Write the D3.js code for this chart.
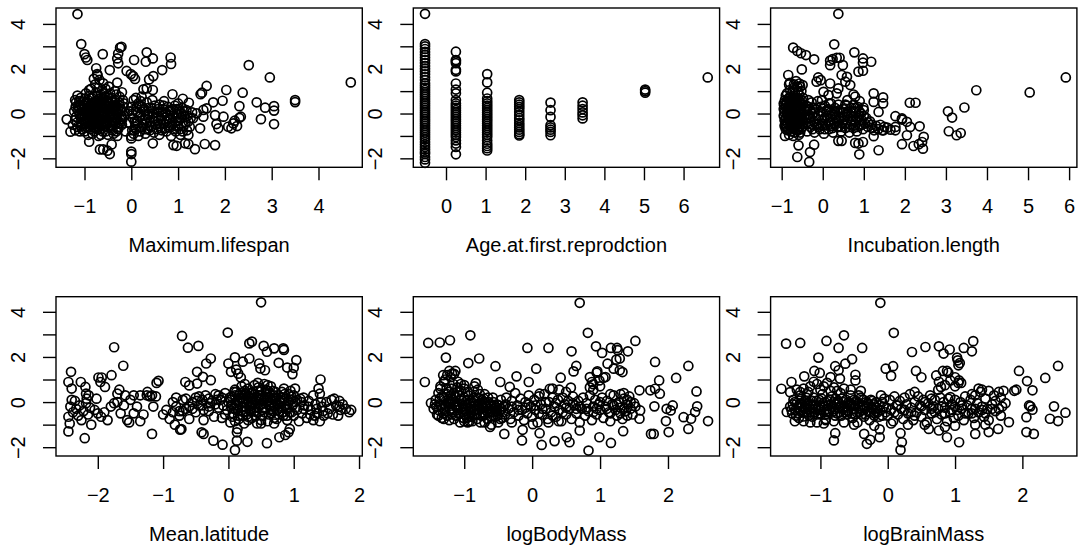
<!DOCTYPE html>
<html><head><meta charset="utf-8">
<script src="https://cdn.jsdelivr.net/npm/d3@7"></script>
<style>body{margin:0;background:#fff}svg{display:block}text{font-family:"Liberation Sans",Arial,Helvetica,sans-serif;fill:#000}</style>
</head><body><svg id="c" width="1078" height="560"></svg>
<script>
// ---------- data ----------
const lifespanPts = [
[-1.15,4.44],[-1.07,3.10],[-1.0,2.65],[-0.97,2.5],[-0.94,2.39],[-0.61,2.65],[-0.75,2.02],[-0.73,1.76],[-0.46,1.94],[-0.30,1.38],[-0.28,2.68],[-0.24,2.94],[-0.21,2.98],[-0.30,2.46],[-0.28,2.24],[0.06,2.39],[-0.10,1.90],[-0.01,1.76],[0.04,1.67],[0.08,1.54],[0.33,2.73],[0.31,2.31],[0.46,2.46],[0.38,1.52],[0.47,1.67],[0.66,1.94],[0.84,2.50],[0.85,2.21],[0.26,1.08],[0.33,1.12],[0.46,1.05],[0.22,0.75],[0.88,0.86],[1.10,0.66],[1.23,0.48],[1.48,0.86],[1.51,0.93],[1.61,1.23],[1.75,0.50],[1.95,0.57],[2.03,1.05],[2.38,0.93],[2.51,2.16],[2.68,0.50],[2.96,1.61],[2.86,0.26],[3.05,0.33],[3.05,0.13],[3.05,-0.47],[2.77,-0.25],[3.50,0.60],[3.50,0.51],[4.69,1.39],[2.31,0.33],[2.34,-0.14],[2.31,-0.19],[2.18,-0.44],[2.14,-0.66],[2.26,-0.56],[2.21,-0.32],[2.07,-0.59],[1.97,-0.14],[1.82,-0.47],[1.86,-0.66],[1.79,-0.07],[1.79,-1.41],[1.57,-1.36],[1.36,-1.59],[1.22,-1.36],[1.15,-1.33],[0.97,-1.44],[0.90,-1.41],[0.46,-1.33],[0.0,-1.11],[0.0,-1.70],[0.0,-1.81],[0.0,-2.15],[-0.42,-1.38],[-0.46,-1.81],[-0.51,-1.66],[-0.60,-1.60],[-0.67,-1.60],[-0.90,-1.26],[-1.30,-0.81],[-1.38,-0.26],[1.22,-0.96],[1.47,-0.66],[1.54,-0.14],[1.40,0.01],[1.32,-0.21],[1.54,0.16],[1.61,0.23],
[-1.22,0.1],[-1.2,-0.3],[-1.18,0.5],[-1.15,-0.6],[-1.12,0.25],[-1.1,-0.1],[-1.08,0.7],[-1.05,-0.45],[-1.03,0.4],[-1.0,-0.8],[-0.98,0.05],[-0.97,0.9],[-0.95,-0.25],[-0.93,0.6],[-0.9,-0.6],[-0.88,0.3],[-0.86,1.1],[-0.85,-0.05],[-0.83,-0.9],[-0.8,0.5],[-0.78,-0.4],[-0.77,1.3],[-0.75,0.15],[-0.73,-0.7],[-0.72,0.8],[-0.7,-0.2],[-0.68,1.5],[-0.66,0.4],[-0.65,-0.95],[-0.63,0.0],[-0.6,-0.5],[-0.58,0.9],[-0.57,0.2],[-0.55,-0.8],[-0.53,0.55],[-0.5,-0.3],[-0.48,1.2],[-0.46,0.1],[-0.44,-0.65],[-0.42,0.7],[-0.4,-0.1],[-0.38,-0.9],[-0.36,0.35],[-0.34,-0.45],[-0.32,0.85],[-0.3,0.0],[-0.28,-0.7],[-0.26,0.5],[-0.24,-0.25],[-0.22,0.2],[-0.2,-0.5],[-0.18,0.6],[-0.15,-0.1],[-0.12,-0.8],
[-1.1,0.0],[-1.05,0.2],[-1.0,-0.35],[-0.95,0.25],[-0.9,0.0],[-0.88,-0.35],[-0.82,0.2],[-0.8,-0.15],[-0.75,-0.45],[-0.72,0.45],[-0.68,0.1],[-0.65,-0.3],[-0.62,0.6],[-0.6,0.25],[-0.56,-0.1],[-0.52,0.3],[-0.5,-0.6],[-0.47,0.45],[-0.43,-0.3],[-0.38,0.15],[-0.35,-0.2],[-0.31,0.3],[-0.27,-0.45],[-0.95,-0.6],[-0.85,0.7],[-0.75,0.95],[-0.7,1.15],[-0.62,1.05],[-0.8,1.55],[-0.72,1.7],[-0.6,1.35],[-0.55,1.1],[-0.9,1.05],[-1.0,0.65],[-1.15,0.8],[-1.2,0.6],[-1.25,-0.5],[-1.2,-0.75],[-1.1,-0.8],[-0.92,-0.95],[-0.7,-1.0],[-0.5,-0.95],[-0.3,-1.0],[-0.4,0.55],[-0.25,0.75],[-0.2,0.95],[-0.35,1.0],[-0.45,0.9],
[-1.18,-0.15],[-1.13,0.35],[-1.08,-0.55],[-1.02,0.1],[-0.97,-0.45],[-0.92,0.45],[-0.87,-0.7],[-0.83,0.05],[-0.78,0.35],[-0.76,-0.25],[-0.71,-0.55],[-0.69,0.65],[-0.64,-0.1],[-0.61,-0.8],[-0.59,0.45],[-0.54,-0.4],[-0.51,0.05],[-0.49,0.7],[-0.45,-0.5],[-0.41,0.25],[-0.37,-0.35],[-0.33,0.1],[-0.29,-0.6],[-0.25,0.35],[-0.21,-0.15],[-0.17,0.3],[-1.05,-0.7],[-1.15,0.15],[-0.9,0.8],[-0.8,-0.6],[-0.7,0.3],[-0.6,-0.05],[-0.5,0.55],[-0.4,-0.75],[-0.3,-0.25],[-0.2,0.1],[-0.85,0.45],[-0.95,-0.05],[-1.0,0.35],[-0.65,0.85],[-0.55,0.75],[-0.45,-0.05],
[-1.19,0.3],[-1.16,-0.4],[-1.11,0.55],[-1.07,-0.25],[-1.04,0.0],[-0.99,-0.65],[-0.96,0.5],[-0.91,-0.15],[-0.89,0.15],[-0.84,-0.5],[-0.81,0.75],[-0.79,-0.8],[-0.74,0.55],[-0.71,-0.35],[-0.67,-0.7],[-0.63,0.35],[-0.62,-0.25],[-0.58,0.05],[-0.55,-0.55],[-0.52,0.5],[-0.48,-0.2],[-0.44,0.35],[-0.41,-0.55],[-0.39,0.0],[-0.35,0.6],[-0.32,-0.8],[-0.28,0.2],[-0.23,-0.4],[-0.19,-0.25],[-0.16,0.45],
[-1.09,0.4],[-1.06,-0.15],[-1.01,0.25],[-0.99,-0.2],[-0.94,0.1],[-0.92,-0.35],[-0.87,0.4],[-0.84,-0.25],[-0.81,0.0],[-0.79,0.25],[-0.77,-0.6],[-0.74,-0.1],[-0.71,0.2],[-0.69,-0.45],[-0.66,0.5],[-0.64,-0.55],[-0.61,0.1],[-0.58,-0.35],[-0.56,0.35],[-0.53,-0.2],[-0.51,-0.45],[-0.47,0.2],[-0.45,0.25],[-0.42,-0.4],[-0.39,0.35],[-0.37,-0.05],[-0.34,0.2],
[0.0,0.3],[0.03,-0.2],[0.05,0.6],[0.08,-0.6],[0.1,0.1],[0.13,-0.35],[0.15,0.45],[0.18,-0.8],[0.2,-0.05],[0.23,0.3],[0.25,-0.5],[0.28,0.1],[0.3,-0.25],[0.33,0.5],[0.35,-0.7],[0.38,0.0],[0.4,-0.4],[0.43,0.25],[0.45,-0.15],[0.48,-0.85],[0.5,0.35],[0.53,-0.5],[0.55,0.05],[0.58,-0.3],[0.6,0.4],[0.63,-0.65],[0.65,-0.1],[0.68,0.2],[0.7,-0.45],[0.73,0.05],[0.75,-0.8],[0.78,0.3],[0.8,-0.25],[0.83,-0.55],[0.85,0.1],[0.88,-0.1],[0.9,-0.7],[0.93,0.35],[0.95,-0.35],[0.98,0.0],[1.0,-0.55],[1.03,0.2],[1.06,-0.2],[1.1,-0.8],[1.13,0.1],[1.16,-0.4],[1.2,-0.1],[1.25,-0.6],[1.3,0.05],[0.1,0.7],[0.2,0.55],[-0.05,-0.4],[-0.05,0.1],[0.05,-0.9],[0.15,-1.0],[0.3,-0.9],[0.6,-0.95],[0.85,-1.0],[1.05,-0.95],[0.45,0.6],[0.7,0.55],[1.0,0.45],[0.02,-0.75],[0.0,-1.0],
[0.02,0.0],[0.07,-0.35],[0.12,0.3],[0.17,-0.15],[0.22,-0.6],[0.27,0.2],[0.32,-0.45],[0.37,0.25],[0.42,-0.6],[0.47,0.0],[0.52,-0.2],[0.57,0.2],[0.62,-0.45],[0.67,0.05],[0.72,-0.65],[0.77,-0.1],[0.82,0.15],[0.87,-0.4],[0.92,-0.15],[0.97,0.2],[1.02,-0.3],[1.07,0.0],[1.12,-0.55],[1.18,0.15],[1.22,-0.35],[1.27,-0.2],[0.1,-0.7],[0.4,-0.75],[0.65,-0.75],[0.95,-0.8],
[0.04,0.15],[0.09,-0.45],[0.14,0.05],[0.19,0.35],[0.24,-0.3],[0.29,-0.7],[0.34,-0.05],[0.39,-0.55],[0.44,0.1],[0.49,-0.35],[0.54,-0.7],[0.59,0.1],[0.64,-0.25],[0.69,0.35],[0.74,-0.35],[0.79,-0.6],[0.84,-0.2],[0.89,0.2],[0.94,-0.55],[0.99,-0.2],[1.04,-0.7],[1.09,0.25],[1.14,-0.15],[1.19,-0.75]
];

const ageFirstReproPts = [
[-0.53,4.45],[-0.53,-2.2],[-0.53,-2.05],[-0.53,-1.94],[-0.53,-1.8],[-0.53,-1.72],[-0.53,-1.6],[-0.53,-1.49],[-0.53,-1.38],[-0.53,-1.27],[-0.53,-1.15],[-0.53,-1.05],[-0.53,-0.95],[-0.53,-0.85],[-0.53,-0.75],[-0.53,-0.65],[-0.53,-0.55],[-0.53,-0.45],[-0.53,-0.35],[-0.53,-0.25],[-0.53,-0.15],[-0.53,-0.05],[-0.53,0.05],[-0.53,0.15],[-0.53,0.25],[-0.53,0.35],[-0.53,0.45],[-0.53,0.55],[-0.53,0.65],[-0.53,0.75],[-0.53,0.85],[-0.53,0.95],[-0.53,1.05],[-0.53,1.15],[-0.53,1.25],[-0.53,1.35],[-0.53,1.5],[-0.53,1.62],[-0.53,1.75],[-0.53,1.88],[-0.53,2.0],[-0.53,2.12],[-0.53,2.25],[-0.53,2.38],[-0.53,2.5],[-0.53,2.62],[-0.53,2.75],[-0.53,2.88],[-0.53,3.0],[-0.53,3.1],
[0.25,2.76],[0.25,2.39],[0.25,2.33],[0.25,2.25],[0.25,1.95],[0.25,1.88],[0.25,1.34],[0.25,1.07],[0.25,0.9],[0.25,0.6],[0.25,0.45],[0.25,0.35],[0.25,0.25],[0.25,0.15],[0.25,0.05],[0.25,-0.05],[0.25,-0.15],[0.25,-0.25],[0.25,-0.35],[0.25,-0.45],[0.25,-0.55],[0.25,-0.65],[0.25,-0.75],[0.25,-0.85],[0.25,-0.95],[0.25,-1.05],[0.25,-1.2],[0.25,-1.34],[0.25,-1.49],[0.25,-1.82],
[1.04,1.76],[1.04,1.39],[1.04,0.93],[1.04,0.67],[1.04,0.55],[1.04,0.45],[1.04,0.35],[1.04,0.25],[1.04,0.15],[1.04,0.05],[1.04,-0.05],[1.04,-0.15],[1.04,-0.25],[1.04,-0.35],[1.04,-0.45],[1.04,-0.55],[1.04,-0.65],[1.04,-0.75],[1.04,-0.85],[1.04,-0.95],[1.04,-1.05],[1.04,-1.2],[1.04,-1.35],[1.04,-1.45],[1.04,-1.55],[1.04,-1.65],
[1.85,0.6],[1.85,0.5],[1.85,0.4],[1.85,0.3],[1.85,0.2],[1.85,0.07],[1.85,-0.07],[1.85,-0.2],[1.85,-0.3],[1.85,-0.42],[1.85,-0.52],[1.85,-0.62],[1.85,-0.72],[1.85,-0.82],[1.85,-0.92],[1.85,-0.98],
[2.64,0.49],[2.64,0.15],[2.64,-0.15],[2.64,-0.52],[2.64,-0.62],[2.64,-0.72],[2.64,-0.82],[2.64,-0.97],
[3.45,0.5],[3.45,0.35],[3.45,0.2],[3.45,0.05],[3.45,-0.08],[3.45,-0.22],
[5.03,1.07],[5.03,1.0],[5.03,0.93],[6.61,1.61]
];

const incubationPts = [
[0.38,4.45],[0.28,3.09],[-0.72,2.94],[-0.62,2.79],[-0.53,2.69],[-0.41,2.61],[-0.21,2.42],[-0.51,1.97],[-0.84,1.72],[-0.80,1.37],[-0.70,1.16],[-0.57,1.34],[-0.49,1.27],[-0.11,1.61],[-0.05,1.49],[-0.15,1.42],[0.18,2.36],[0.24,2.43],[0.34,2.49],[0.41,2.49],[0.18,2.16],[0.49,2.16],[0.77,2.73],[0.98,2.46],[0.98,2.27],[0.87,1.87],[0.98,1.91],[1.18,2.31],[0.46,1.72],[0.59,1.64],[0.55,1.42],[0.18,1.34],[0.38,1.12],[0.67,1.27],[0.02,0.97],[0.14,0.82],[-0.02,0.60],[0.34,0.90],[0.75,0.85],[0.79,0.75],[1.24,0.90],[1.24,0.52],[1.47,0.72],[1.47,0.45],[1.36,0.07],[0.99,0.27],[1.77,-0.12],[1.93,-0.27],[2.05,-0.37],[2.13,-0.60],[1.93,-0.22],[2.12,0.48],[2.26,0.48],[1.77,-0.6],[1.77,-0.75],[2.05,-0.97],[1.93,-1.37],[2.21,-1.45],[2.34,-1.37],[2.36,-0.57],[2.46,-1.04],[2.44,-1.57],[2.42,-1.27],[1.36,-1.64],[1.24,-1.01],[0.98,-1.27],[0.87,-1.34],[0.89,-1.82],[0.79,-1.31],[0.38,-1.22],[0.46,-1.22],[-0.21,-1.39],[-0.31,-1.72],[-0.33,-2.16],[-0.62,-1.94],[-0.59,-1.42],[1.57,-0.63],[1.65,-0.72],[1.48,-0.75],[3.05,0.10],[3.15,-0.18],[3.07,-0.79],[3.26,-0.97],[3.36,-0.87],[3.45,0.27],[3.74,1.04],[5.04,0.94],[5.92,1.61],
[-0.95,0.2],[-0.93,-0.3],[-0.92,0.6],[-0.9,-0.7],[-0.88,0.0],[-0.87,0.9],[-0.85,-0.45],[-0.83,0.35],[-0.82,-0.95],[-0.8,0.75],[-0.78,-0.15],[-0.77,0.15],[-0.75,-0.6],[-0.73,1.0],[-0.72,0.45],[-0.7,-0.3],[-0.68,-0.85],[-0.67,0.1],[-0.65,0.7],[-0.63,-0.5],[-0.62,0.3],[-0.6,-0.1],[-0.58,-0.95],[-0.57,0.55],[-0.55,1.2],[-0.53,-0.7],[-0.52,0.05],[-0.5,-0.35],[-0.48,0.4],[-0.45,-0.15],[-0.9,0.4],[-0.85,-0.1],[-0.8,0.25],[-0.75,-0.25],[-0.7,0.05],[-0.65,0.35],[-0.6,-0.4],[-0.55,0.2],[-0.5,-0.6],[-0.82,1.3],[-0.65,1.45],[-0.62,1.2],[-0.6,1.0],[-0.78,-0.45],[-0.95,-0.1],[-0.92,-1.0],[-0.72,-1.0],[-0.6,-0.75],
[-0.93,0.05],[-0.9,-0.2],[-0.88,0.55],[-0.85,0.15],[-0.82,-0.3],[-0.8,0.5],[-0.77,-0.8],[-0.75,0.3],[-0.72,-0.1],[-0.7,0.7],[-0.68,-0.55],[-0.65,-0.15],[-0.63,0.5],[-0.6,0.15],[-0.57,-0.25],[-0.55,-0.85],[-0.53,0.4],[-0.5,-0.05],[-0.48,0.7],[-0.47,-0.45],[-0.9,0.8],[-0.8,1.05],[-0.7,1.3],[-0.68,0.9],[-0.58,0.85],[-0.52,1.0],[-0.95,0.45],[-0.93,-0.55],[-0.85,-0.75],[-0.62,-0.7],
[-0.94,0.35],[-0.91,-0.45],[-0.89,0.25],[-0.86,-0.25],[-0.84,0.65],[-0.81,0.0],[-0.79,-0.6],[-0.76,0.55],[-0.74,-0.05],[-0.71,0.25],[-0.69,-0.7],[-0.66,-0.35],[-0.64,0.55],[-0.61,-0.2],[-0.59,0.35],[-0.56,-0.55],[-0.54,0.0],[-0.51,0.6],[-0.49,-0.25],[-0.46,0.2],
[-0.89,-0.55],[-0.87,0.45],[-0.84,-0.05],[-0.81,0.6],[-0.79,0.1],[-0.76,-0.35],[-0.73,0.65],[-0.71,-0.5],[-0.69,0.45],[-0.66,0.15],[-0.63,-0.25],[-0.61,0.7],[-0.58,0.6],[-0.56,-0.4],[-0.53,0.25],
[-0.42,0.1],[-0.4,-0.4],[-0.38,-0.8],[-0.35,0.3],[-0.32,-0.15],[-0.3,-0.6],[-0.27,0.5],[-0.25,0.0],[-0.22,-0.35],[-0.2,-0.85],[-0.17,0.2],[-0.15,-0.5],[-0.12,0.55],[-0.1,-0.1],[-0.07,-0.7],[-0.05,0.3],[-0.02,-0.3],[0.0,0.05],[0.03,-0.9],[0.05,0.35],[0.08,-0.5],[0.1,-0.1],[0.13,0.2],[0.15,-0.7],[0.18,-0.3],[0.2,0.45],[0.23,0.0],[0.25,-0.85],[0.28,-0.45],[0.3,0.25],[0.33,-0.15],[0.35,-0.6],[0.38,0.4],[0.4,-0.3],[0.43,0.05],[0.45,-0.8],[0.48,-0.45],[0.5,0.2],[0.53,-0.15],[0.55,-0.65],[0.58,0.35],[0.6,-0.3],[0.63,0.0],[0.65,-0.85],[0.68,-0.5],[0.7,0.25],[0.73,-0.15],[0.75,-0.65],[0.78,0.1],[0.8,-0.35],[0.83,-0.8],[0.85,0.3],[0.88,-0.1],[0.9,-0.55],[0.93,0.0],[0.95,-0.3],[0.98,-0.7],[1.0,0.15],[1.03,-0.45],[1.06,-0.2],[1.1,-0.6],[1.15,-0.35],[1.2,-0.65],[1.25,-0.75],[1.3,-0.55],[1.35,-0.7],[1.4,-0.5],[1.45,-0.75],[1.5,-0.6],[-0.35,0.6],[0.6,0.6],[0.9,0.55],
[-0.4,0.35],[-0.3,-0.2],[-0.2,0.05],[-0.1,-0.45],[0.0,-0.55],[0.1,0.15],[0.2,-0.55],[0.3,-0.05],[0.4,0.15],[0.5,-0.3],[0.6,0.1],[0.7,-0.35],[0.8,0.25],[0.9,-0.3],[1.0,-0.1],[0.15,0.45],[0.35,0.1],[0.55,0.4],[0.75,0.4],[-0.25,-0.7],[0.05,-0.7],[0.45,-0.6],[0.85,-0.6],[1.1,-0.4],[1.2,-0.5],
[-0.41,-0.2],[-0.36,-0.45],[-0.31,0.15],[-0.26,-0.5],[-0.21,0.25],[-0.16,-0.2],[-0.11,-0.6],[-0.06,0.1],[-0.01,-0.45],[0.04,-0.2],[0.09,0.1],[0.14,-0.4],[0.19,-0.1],[0.24,-0.65],[0.29,0.1],[0.34,-0.35],[0.39,-0.6],[0.44,-0.15],[0.49,0.05],[0.54,-0.45],[0.59,-0.05],[0.64,-0.6],[0.69,-0.1],[0.74,0.1],[0.79,-0.5],[0.84,-0.2],[0.89,0.1],[0.94,-0.5]
];

const latitudePts = [
[0.50,4.42],[-0.01,3.08],[-0.71,2.93],[-1.75,2.43],[-0.62,2.41],[-0.46,2.49],[0.36,2.68],[0.32,2.6],[0.54,2.49],[0.59,2.23],[0.70,2.38],[0.84,2.38],[0.85,2.31],[0.32,1.93],[0.10,1.98],[0.22,1.79],[-0.27,1.93],[-0.34,1.71],[-1.61,1.61],[1.04,1.86],[1.0,1.52],[0.98,1.24],[0.90,1.53],[0.77,1.74],[0.47,1.71],[0.49,1.49],[0.56,1.41],[0.0,1.71],[0.04,1.34],[0.12,1.44],[0.15,1.26],[0.19,1.09],[-0.48,1.34],[-0.39,1.12],[-0.48,0.82],[-0.66,0.89],[-0.6,0.74],[-0.27,0.97],[-1.07,0.94],[-2.41,1.34],[-2.45,0.89],[-2.40,0.6],[-2.26,0.89],[-2.19,0.67],[-1.99,1.09],[-1.94,1.09],[-1.96,0.89],[-1.89,0.67],[-1.79,1.19],[-1.67,0.55],[-1.70,0.37],[-1.58,0.30],[-1.45,0.3],[-1.35,0.3],[-1.24,0.45],[-1.17,0.3],[-1.11,0.25],[1.41,1.0],[1.02,0.6],[1.38,0.6],[1.40,0.37],[1.30,0.3],[-2.02,0.15],[-2.14,0.30],[-2.18,0.37],[-2.17,0.15],[-1.17,-1.41],[-0.74,-1.22],[-0.41,-1.34],[-0.38,-1.41],[-0.23,-1.71],[-0.09,-1.89],[0.10,-2.13],[0.13,-1.71],[0.13,-1.34],[0.14,-1.19],[0.29,-1.76],[0.59,-1.82],[0.78,-1.56],[0.87,-1.46],[0.92,-1.34],[0.94,-1.19],
[-2.45,-0.65],[-2.45,-1.3],[-2.43,-0.95],[-2.42,-0.2],[-2.4,0.1],[-2.38,-0.45],[-2.35,0.05],[-2.33,-0.3],[-2.3,-0.6],[-2.28,-0.15],[-2.25,-0.8],[-2.22,-0.4],[-2.2,-1.6],[-2.18,-0.05],[-2.15,-0.55],[-2.12,-0.25],[-2.1,-1.0],[-2.05,-0.35],[-2.0,-0.5],[-1.95,-0.65],[-1.9,-0.45],[-1.85,-0.8],[-1.8,-0.2],[-1.75,-0.05],[-1.7,0.0],[-1.65,-0.5],[-1.6,-0.15],[-1.55,-0.8],[-1.52,-0.9],[-1.5,0.1],[-1.45,-0.5],[-1.4,-0.2],[-1.35,-0.85],[-1.3,-0.55],[-1.25,0.3],[-1.2,0.25],[-1.15,-0.2],[-1.1,0.85],[-1.0,-0.55],[-0.95,-0.35],[-0.9,-0.75],[-0.85,0.0],[-0.82,-1.0],[-0.8,0.2],[-0.75,-0.4],[-0.72,-1.2],
[-0.8,-0.2],[-0.75,-0.6],[-0.7,0.1],[-0.65,-0.3],[-0.6,-0.75],[-0.55,0.0],[-0.5,-0.45],[-0.45,0.25],[-0.4,-0.15],[-0.38,-0.8],[-0.35,0.3],[-0.3,-0.4],[-0.25,0.05],[-0.22,-0.65],[-0.2,0.35],[-0.15,-0.25],[-0.12,0.1],[-0.1,-0.7],[-0.05,0.4],[-0.02,-0.35],[0.0,0.0],[0.03,-0.9],[0.05,0.25],[0.07,-0.5],[0.1,0.55],[0.12,-0.15],[0.14,0.1],[0.16,-0.75],[0.18,0.4],[0.2,-0.35],[0.22,0.0],[0.24,-0.95],[0.26,0.3],[0.28,-0.55],[0.3,0.6],[0.32,-0.2],[0.34,0.15],[0.36,-0.7],[0.38,0.45],[0.4,-0.4],[0.42,0.05],[0.44,-0.95],[0.46,0.3],[0.48,-0.15],[0.5,0.55],[0.52,-0.6],[0.54,0.1],[0.56,-0.3],[0.58,0.35],[0.6,-0.85],[0.62,-0.1],[0.64,0.2],[0.66,-0.5],[0.68,0.5],[0.7,-0.2],[0.72,0.05],[0.74,-0.75],[0.76,0.3],[0.78,-0.4],[0.8,-0.05],[0.82,0.45],[0.84,-0.6],[0.86,0.15],[0.88,-0.3],[0.9,-0.8],[0.92,0.05],[0.94,-0.45],[0.96,0.25],[0.98,-0.15],[1.0,-0.6],[1.02,0.0],[1.05,-0.35],[1.08,-0.85],[1.1,0.15],[1.13,-0.5],[1.16,-0.15],[1.2,-0.7],[1.23,0.05],[1.26,-0.35],[1.3,-0.8],[1.33,-0.1],[1.36,-0.5],[1.4,-0.85],[1.43,-0.2],[1.46,-0.6],[1.5,0.0],[1.55,-0.3],[1.6,-0.55],[1.65,-0.15],[1.7,0.05],[1.72,-0.35],[1.75,-0.1],[1.8,-0.3],[1.85,-0.45],[1.88,-0.35],[1.68,-0.6],[1.58,0.1],[1.62,0.15],[1.7,-0.2],
[0.05,-0.1],[0.1,0.3],[0.15,-0.4],[0.2,0.2],[0.25,-0.2],[0.3,0.05],[0.35,-0.4],[0.4,0.35],[0.45,-0.25],[0.5,0.15],[0.55,-0.45],[0.6,0.2],[0.65,-0.15],[0.7,0.3],[0.75,-0.35],[0.8,0.2],[0.3,-0.8],[0.5,-0.8],[0.2,0.7],[0.4,0.75],[0.55,0.8],[0.65,0.7],[0.15,-0.6],[0.35,0.4],[0.45,0.5],[0.25,0.5],[0.6,0.5],[0.7,-0.7],[-0.1,0.2],[-0.2,-0.1],[-0.3,0.15],[-0.45,-0.15],[-0.6,-0.2],[-0.5,0.2],[-0.65,0.15],[0.9,-0.3],[1.0,0.3],[1.15,0.2],[0.85,0.6],[0.95,0.5],
[0.02,0.2],[0.08,-0.3],[0.12,0.45],[0.17,0.05],[0.22,-0.6],[0.27,0.1],[0.32,0.4],[0.37,-0.1],[0.42,-0.6],[0.47,0.1],[0.52,-0.35],[0.57,0.55],[0.62,-0.55],[0.67,0.0],[0.72,0.45],[0.77,-0.55],[0.82,0.05],[0.87,-0.15],[0.92,0.35],[0.97,-0.45],[0.1,-0.85],[0.3,-0.65],[0.5,-0.95],[0.7,-0.95],[0.9,-0.6],[0.25,0.8],[0.45,0.85],[0.6,0.75],[-0.05,-0.55],[-0.15,0.3],[1.05,0.1],[1.15,-0.3],[1.25,-0.55],[1.35,-0.3],[1.45,-0.4],[-0.3,-0.2],[-0.4,0.1],[-0.55,-0.3],[-0.7,-0.4],[-0.85,-0.45],
[0.03,0.1],[0.06,-0.65],[0.11,-0.05],[0.16,0.3],[0.21,-0.2],[0.26,-0.4],[0.31,0.25],[0.36,0.0],[0.41,-0.25],[0.46,0.65],[0.51,-0.1],[0.56,0.25],[0.61,0.05],[0.66,-0.3],[0.71,0.15],[0.76,-0.1],[0.81,-0.25],[0.86,0.35],[0.91,-0.1],[0.96,0.1],[-0.08,-0.15],[-0.18,0.1],[-0.28,-0.05],[-0.38,-0.35],[-0.48,0.05],[1.12,0.0],[1.22,-0.2],[1.32,-0.6],[1.42,0.0],[1.52,-0.5],
[0.04,-0.2],[0.09,0.45],[0.14,-0.3],[0.19,0.15],[0.23,-0.45],[0.28,0.35],[0.33,-0.35],[0.38,0.2],[0.43,-0.45],[0.48,0.3],[0.53,-0.25],[0.58,0.05],[0.63,0.4],[0.68,-0.4],[0.73,0.2],[0.78,0.05],[0.83,-0.45],[0.23,0.15],[0.43,0.2],[0.63,-0.2]
];

const bodyMassPts = [
[0.70,4.40],[0.82,3.07],[-0.91,2.96],[-1.53,2.62],[-1.36,2.64],[-1.21,2.74],[-1.27,1.97],[-0.94,1.73],[-0.78,1.93],[-0.54,1.59],[-0.07,2.4],[0.24,2.4],[0.58,2.25],[0.06,1.48],[0.65,1.6],[0.61,1.36],[0.94,2.47],[1.03,2.18],[1.16,2.4],[1.25,2.4],[1.26,2.3],[1.41,2.25],[1.52,2.71],[1.11,1.7],[1.24,1.88],[1.29,1.93],[0.96,1.36],[1.08,1.11],[1.20,1.48],[1.29,1.41],[1.33,1.33],[0.85,1.11],[0.88,0.89],[0.90,0.79],[0.99,0.96],[1.05,1.08],[0.42,1.08],[0.57,0.64],[0.26,0.59],[0.11,0.37],[-0.23,1.14],[-0.33,0.67],[-0.47,0.89],[-0.05,0.89],[-1.58,0.89],[-1.49,-0.04],[-1.35,0.59],[-1.31,1.19],[-1.22,1.38],[-1.18,1.26],[-1.13,1.38],[-0.83,0.84],[1.81,1.78],[1.87,0.96],[1.81,0.59],[1.74,0.52],[1.88,0.37],[1.80,-0.19],[1.58,0.52],[2.12,1.07],[2.30,1.6],[2.42,0.47],[2.43,-0.19],[2.40,-0.44],[2.59,-0.84],[2.23,-0.67],[2.34,-0.74],[2.30,-1.19],[1.97,-0.84],[2.01,-1.33],[2.07,-0.15],[2.04,-0.37],[1.98,-0.3],[1.75,-1.41],[1.79,-1.41],[1.58,-0.74],[1.59,-0.37],[1.34,-1.29],[1.16,-1.81],[0.99,-1.56],[0.83,-2.15],[0.70,-1.26],[0.55,-1.78],[0.51,-1.56],[0.33,-1.73],[0.14,-1.90],[0.11,-1.38],[-0.15,-1.70],[-0.14,-1.23],[-0.41,-1.41],[0.39,-0.85],[0.24,-0.9],[0.01,-0.98],[-0.3,-0.9],[-0.62,-1.1],[-0.92,-0.85],
[-1.45,-0.3],[-1.42,0.1],[-1.4,-0.55],[-1.38,0.4],[-1.35,-0.15],[-1.33,-0.7],[-1.3,0.2],[-1.28,-0.4],[-1.26,0.6],[-1.24,-0.05],[-1.22,-0.8],[-1.2,0.3],[-1.18,-0.3],[-1.16,0.8],[-1.14,0.0],[-1.12,-0.6],[-1.1,0.45],[-1.08,-0.2],[-1.06,-0.9],[-1.04,0.15],[-1.02,-0.45],[-1.0,0.6],[-0.98,-0.1],[-0.96,-0.7],[-0.94,0.3],[-0.92,-0.3],[-0.9,0.05],[-0.88,-0.85],[-0.86,0.45],[-0.84,-0.15],[-0.82,-0.55],[-0.8,0.2],[-0.78,-0.35],[-0.76,-0.9],[-0.74,0.1],[-0.72,-0.6],[-0.7,0.35],[-0.68,-0.2],[-0.66,-0.75],[-0.64,0.0],[-0.62,-0.45],[-0.6,-1.0],[-0.58,0.2],[-0.56,-0.3],[-0.54,-0.65],[-0.52,-0.1],[-0.5,-0.9],[-0.48,-0.4],[-0.46,0.1],[-0.44,-0.7],[-0.42,-0.2],[-0.4,-0.55],[-1.3,-0.1],[-1.2,0.0],[-1.1,-0.1],[-1.0,0.2],[-0.9,-0.5],[-0.8,-0.1],[-0.7,0.0],[-0.6,-0.2],[-1.25,0.35],[-1.15,0.4],[-1.05,0.5],[-0.95,0.45],[-1.3,0.9],[-1.2,1.1],[-1.25,1.2],[-1.15,1.25],[-1.05,0.8],[-1.0,0.75],[-0.85,0.7],[-0.8,0.55],[-1.38,-0.6],[-1.3,-0.75],[-1.0,-0.85],[-0.7,-0.9],
[-1.43,-0.1],[-1.38,-0.35],[-1.33,0.25],[-1.28,-0.2],[-1.23,0.15],[-1.18,-0.55],[-1.13,0.25],[-1.09,-0.35],[-1.03,-0.1],[-0.99,-0.55],[-0.95,0.1],[-0.9,-0.2],[-0.86,0.2],[-0.81,-0.75],[-0.77,0.35],[-0.73,-0.45],[-0.69,-0.1],[-0.65,0.2],[-0.61,-0.65],[-0.57,0.0],[-0.53,-0.4],[-0.49,-0.15],[-0.45,-0.3],[-1.35,0.7],[-1.28,1.0],[-1.1,0.65],[-0.95,-0.9],[-1.15,-0.75],[-0.85,-0.35],[-0.75,-0.15],
[-1.41,-0.2],[-1.36,0.15],[-1.31,-0.5],[-1.27,0.05],[-1.21,-0.35],[-1.17,0.1],[-1.11,-0.25],[-1.07,0.3],[-1.01,-0.3],[-0.97,-0.25],[-0.93,-0.05],[-0.89,-0.65],[-0.85,0.05],[-0.79,-0.2],[-0.75,-0.6],[-0.71,0.15],[-0.67,-0.4],[-0.63,-0.3],[-0.59,-0.45],[-0.55,-0.15],[-0.51,-0.6],[-0.47,-0.75],[-0.43,-0.45],[-0.39,-0.1],[-1.19,0.6],[-1.09,0.9],[-1.23,0.45],
[-1.29,-0.3],[-1.25,-0.6],[-1.21,-0.1],[-1.17,-0.45],[-1.13,-0.15],[-1.09,-0.5],[-1.05,-0.25],[-1.01,-0.7],[-0.97,-0.4],[-0.93,-0.6],[-0.89,-0.35],[-0.85,-0.55],[-0.81,-0.3],[-0.77,-0.05],[-0.73,-0.25],[-0.69,-0.55],[-0.65,-0.45],[-0.61,-0.1],[-0.57,-0.6],[-0.53,-0.25],[-1.19,0.15],[-1.03,0.05],[-0.87,-0.05],
[-0.38,0.2],[-0.35,-0.3],[-0.32,-0.75],[-0.3,0.05],[-0.27,-0.45],[-0.25,0.4],[-0.22,-0.15],[-0.2,-0.6],[-0.17,0.15],[-0.15,-0.35],[-0.12,-0.8],[-0.1,0.0],[-0.07,-0.5],[-0.05,0.3],[-0.02,-0.2],[0.0,-0.65],[0.03,0.1],[0.05,-0.35],[0.08,-0.9],[0.1,0.25],[0.13,-0.1],[0.15,-0.55],[0.18,0.35],[0.2,-0.3],[0.23,-0.75],[0.25,0.0],[0.28,-0.45],[0.3,0.2],[0.33,-0.2],[0.35,-0.65],[0.38,0.1],[0.4,-0.35],[0.43,-0.85],[0.45,0.2],[0.48,-0.1],[0.5,-0.55],[0.53,0.05],[0.55,-0.3],[0.58,-0.75],[0.6,0.25],[0.63,-0.15],[0.65,-0.5],[0.68,0.05],[0.7,-0.9],[0.73,-0.3],[0.75,0.2],[0.78,-0.6],[0.8,-0.05],[0.83,-0.4],[0.85,0.3],[0.88,-0.8],[0.9,-0.2],[0.93,0.1],[0.95,-0.55],[0.98,-0.1],[1.0,-0.35],[1.03,0.2],[1.05,-0.7],[1.08,-0.2],[1.1,0.05],[1.13,-0.45],[1.15,-0.85],[1.18,-0.1],[1.2,0.3],[1.23,-0.35],[1.25,-0.6],[1.28,0.0],[1.3,-0.25],[1.33,-0.75],[1.35,0.15],[1.38,-0.4],[1.4,-0.1],[1.43,0.25],[1.45,-0.3],[1.48,-0.55],[1.5,-0.05],[1.52,-0.2],[1.3,0.35],[1.35,0.4],[1.15,0.35],[0.4,0.55],[0.3,0.6],[0.5,0.45],[0.9,0.55],[0.85,0.65],[1.0,0.7],[0.95,1.3],
[-0.3,-0.2],[-0.1,-0.25],[0.1,-0.5],[0.3,-0.6],[0.5,-0.25],[0.7,-0.2],[0.9,-0.45],[1.1,-0.3],[1.3,-0.5],[1.45,0.0],[0.2,0.0],[0.6,-0.05],[1.0,0.0],[1.2,-0.15],[1.4,-0.6],
[0.05,-0.15],[0.15,-0.3],[0.35,-0.05],[0.45,-0.45],[0.65,-0.3],[0.8,-0.3],[0.95,-0.3],[1.15,-0.5],[1.25,-0.1],[1.35,-0.3],[1.4,0.1],[-0.2,-0.35],[-0.05,-0.1]
];

const brainMassPts = [
[-0.11,4.40],[0.09,3.07],[-1.51,2.59],[-1.30,2.62],[-0.91,2.71],[-0.65,2.96],[-0.73,2.40],[-0.38,2.40],[-1.03,1.97],[-0.53,1.90],[-0.63,1.70],[-0.78,1.59],[-0.73,1.41],[-1.09,1.38],[-1.01,1.29],[-1.24,1.14],[-0.85,1.11],[-0.71,1.04],[-0.48,1.21],[-0.48,0.96],[-0.03,1.48],[0.08,1.59],[0.05,1.16],[0.36,2.22],[0.56,2.44],[0.76,2.47],[0.92,2.33],[0.83,2.15],[1.13,2.4],[1.27,2.70],[1.25,2.25],[1.03,1.97],[1.04,1.85],[1.07,1.73],[1.05,1.63],[0.42,1.38],[0.5,1.1],[0.72,1.18],[0.82,1.38],[0.88,1.38],[0.93,0.96],[1.0,1.1],[1.06,0.96],[1.09,0.85],[0.76,0.9],[0.79,0.67],[0.93,0.22],[-1.58,0.59],[-1.43,0.89],[-1.45,0.44],[-1.50,-0.44],[-1.25,-0.64],[-0.78,-1.38],[-0.80,-1.70],[-0.35,-1.41],[-0.31,-1.85],[-0.26,-1.67],[-0.12,-1.56],[-0.12,-1.21],[0.19,-1.38],[0.21,-1.78],[0.19,-2.12],[0.61,-1.19],[0.76,-1.26],[0.88,-1.56],[1.06,-1.78],[1.30,-1.41],[1.50,-1.33],[1.64,-1.19],[1.80,-0.89],[1.95,1.38],[2.07,0.93],[2.15,0.52],[2.34,1.07],[2.53,1.60],[1.91,0.55],[1.88,0.5],[2.06,-0.67],[2.06,-1.33],[2.17,-1.41],[2.10,-0.15],[2.15,-0.34],[2.12,-0.19],[2.41,-0.74],[2.47,-0.19],[2.53,-0.84],[2.64,-0.47],[1.68,-0.6],[1.65,-0.3],[1.5,-0.8],[1.45,-1.0],[1.3,-1.0],[1.0,-1.05],[0.85,-1.1],[0.55,-1.0],[0.3,-1.0],[0.05,-0.95],[-0.2,-1.05],[-0.5,-1.0],[-0.95,-0.95],[-0.92,-0.8],
[-1.45,-0.2],[-1.42,-0.5],[-1.4,0.1],[-1.37,-0.35],[-1.35,-0.05],[-1.32,-0.7],[-1.3,0.3],[-1.28,-0.2],[-1.25,-0.85],[-1.23,0.05],[-1.2,-0.45],[-1.18,0.45],[-1.15,-0.1],[-1.12,-0.65],[-1.1,0.2],[-1.07,-0.3],[-1.05,-0.9],[-1.02,0.1],[-1.0,-0.5],[-0.97,0.35],[-0.95,-0.15],[-0.92,-0.75],[-0.9,0.05],[-0.87,-0.4],[-0.85,0.5],[-0.82,-0.2],[-0.8,-0.85],[-0.77,0.15],[-0.75,-0.5],[-0.72,-0.05],[-0.7,0.4],[-0.67,-0.3],[-0.65,-0.9],[-0.62,0.1],[-0.6,-0.55],[-0.57,-0.15],[-0.55,0.3],[-0.52,-0.7],[-0.5,-0.3],[-0.47,0.05],[-0.45,-0.9],[-0.42,-0.45],[-0.4,0.2],[-0.37,-0.15],[-0.35,-0.65],[-0.32,0.0],[-0.3,-0.4],[-0.27,-0.8],[-0.25,0.1],[-0.22,-0.3],[-0.2,-0.6],[-0.17,0.0],[-0.15,-0.45],[-0.12,-0.15],[-0.1,0.3],[-0.08,-0.6],[-0.05,0.15],[-0.02,-0.25],[-1.3,-0.4],[-1.2,-0.1],[-1.1,-0.45],[-1.0,-0.15],[-0.9,-0.3],[-0.8,0.0],[-0.7,-0.2],[-0.6,-0.25],[-0.5,0.1],[-1.25,0.6],[-1.15,0.7],[-1.05,0.8],[-0.95,0.7],[-1.1,0.9],[-0.9,0.85],[-0.8,0.65],[-0.65,0.6],[-0.4,0.5],[-1.35,0.55],[-1.3,0.45],[-1.38,-0.85],[-1.15,-0.9],
[-1.43,-0.35],[-1.38,0.0],[-1.33,-0.5],[-1.28,0.15],[-1.22,-0.25],[-1.17,-0.6],[-1.12,0.05],[-1.08,-0.45],[-1.03,-0.25],[-0.98,0.15],[-0.93,-0.55],[-0.88,-0.15],[-0.83,0.25],[-0.78,-0.6],[-0.73,-0.25],[-0.68,0.15],[-0.63,-0.45],[-0.58,0.0],[-0.53,-0.5],[-0.48,-0.15],[-0.43,0.3],[-0.38,-0.35],[-0.33,-0.55],[-0.28,-0.1],[-0.23,0.05],[-0.18,-0.4],[-0.13,-0.65],[-0.08,0.0],[-0.03,-0.45],[-1.2,0.35],[-1.0,0.55],[-0.75,0.5],[-0.55,0.55],
[-1.41,-0.1],[-1.36,-0.6],[-1.31,-0.1],[-1.26,-0.45],[-1.21,0.2],[-1.16,-0.3],[-1.11,-0.15],[-1.06,0.05],[-1.01,-0.35],[-0.96,-0.05],[-0.91,-0.45],[-0.86,0.1],[-0.81,-0.4],[-0.76,-0.1],[-0.71,-0.45],[-0.66,0.0],[-0.61,-0.35],[-0.56,-0.05],[-0.51,-0.15],[-0.46,-0.45],[-0.41,-0.25],[-0.36,0.1],[-0.31,-0.2],[-0.26,-0.45],[-0.21,-0.1],[-0.16,-0.25],[-0.11,-0.35],[-0.06,-0.2],
[-1.34,-0.25],[-1.29,-0.05],[-1.24,-0.3],[-1.19,-0.05],[-1.14,-0.45],[-1.09,-0.1],[-1.04,-0.55],[-0.99,-0.35],[-0.94,-0.2],[-0.89,-0.55],[-0.84,-0.1],[-0.79,-0.3],[-0.74,0.05],[-0.69,-0.6],[-0.64,-0.2],[-0.59,-0.4],[-0.54,-0.1],[-0.49,-0.55],[-0.44,-0.05],[-0.39,-0.55],[-0.34,-0.3],[-0.29,-0.05],[-0.24,-0.25],[-0.19,-0.5],
[0.0,-0.6],[0.03,0.1],[0.05,-0.35],[0.08,-0.85],[0.1,0.25],[0.13,-0.15],[0.15,-0.55],[0.18,0.05],[0.2,-0.3],[0.23,-0.75],[0.25,0.2],[0.28,-0.1],[0.3,-0.5],[0.33,0.35],[0.35,-0.25],[0.38,-0.8],[0.4,0.0],[0.43,-0.45],[0.45,0.25],[0.48,-0.15],[0.5,-0.65],[0.53,0.1],[0.55,-0.35],[0.58,-0.9],[0.6,-0.05],[0.63,0.3],[0.65,-0.5],[0.68,-0.2],[0.7,0.1],[0.73,-0.75],[0.75,-0.3],[0.78,0.2],[0.8,-0.55],[0.83,0.0],[0.85,-0.25],[0.88,-0.85],[0.9,0.15],[0.93,-0.45],[0.95,-0.1],[0.98,-0.7],[1.0,0.1],[1.03,-0.35],[1.05,-0.6],[1.08,0.0],[1.1,-0.3],[1.13,-0.8],[1.15,0.25],[1.18,-0.15],[1.2,-0.5],[1.23,0.1],[1.25,-0.3],[1.28,-0.7],[1.3,0.3],[1.33,-0.05],[1.35,-0.45],[1.38,0.45],[1.4,-0.2],[1.43,-0.65],[1.45,0.15],[1.48,-0.3],[1.5,0.5],[1.55,-0.1],[1.6,-0.4],[1.65,0.45],[1.7,-0.2],[1.72,0.5],[1.75,-0.05],[1.68,0.2],[1.58,0.3],[1.4,0.55],[1.35,0.6],[1.0,0.7],[0.85,0.75],[0.9,1.3],[1.05,0.85],[0.75,0.55],[0.4,0.45],
[0.1,-0.45],[0.25,-0.35],[0.4,-0.6],[0.55,0.0],[0.7,-0.45],[0.85,-0.5],[1.0,-0.2],[1.15,-0.5],[1.3,-0.3],[1.45,-0.5],[1.6,0.05],[0.65,0.15],[1.25,0.35],
[0.15,-0.15],[0.35,-0.45],[0.5,-0.2],[0.65,-0.3],[0.8,-0.2],[0.95,-0.35],[1.1,-0.15],[1.25,-0.5],[1.4,-0.35],[1.55,-0.3]
];

// axis labels and ticks
const xLabels = ["Maximum.lifespan","Age.at.first.reprodction","Incubation.length","Mean.latitude","logBodyMass","logBrainMass"];
const xTickSets = [[-1,0,1,2,3,4],[0,1,2,3,4,5,6],[-1,0,1,2,3,4,5,6],[-2,-1,0,1,2],[-1,0,1,2],[-1,0,1,2]];
const yTickValues = [-2,-1,0,1,2,3,4];
const yTickLabelled = [-2,0,2,4];

// ---------- layout ----------
const seriesList = [lifespanPts, ageFirstReproPts, incubationPts, latitudePts, bodyMassPts, brainMassPts];
const xDomains = [[-1.609,4.936],[-0.826,6.91],[-1.27,6.19],[-2.64,2.05],[-1.75,2.76],[-1.74,2.81]];
const yDomains = [[-2.40,4.71],[-2.39,4.67]];
const colLeft = [56, 413.3, 770.6], plotW = 306.3;
const rowTop = [8, 296.7], plotH = 159.3;
const FS = 20;
const fmt = v => (v < 0 ? "\u2212" + Math.abs(v) : String(v));

const svg = d3.select("#c");
seriesList.forEach((pts, i) => {
  const col = i % 3, row = Math.floor(i / 3);
  const g = svg.append("g").attr("transform", `translate(${colLeft[col]},${rowTop[row]})`);
  const x = d3.scaleLinear().domain(xDomains[i]).range([0, plotW]);
  const y = d3.scaleLinear().domain(yDomains[row]).range([plotH, 0]);

  g.append("g").selectAll("circle").data(pts).join("circle")
    .attr("cx", d => x(d[0])).attr("cy", d => y(d[1])).attr("r", 4.5)
    .attr("fill", "none").attr("stroke", "#000").attr("stroke-width", 1.7);

  // x axis
  const xa = g.append("g").attr("transform", `translate(0,${plotH})`)
    .call(d3.axisBottom(x).tickValues(xTickSets[i]).tickSize(13).tickPadding(0).tickFormat(fmt));
  xa.select(".domain").remove();
  xa.selectAll(".tick line").attr("stroke-width", 1.4);
  xa.selectAll(".tick text").attr("y", 39).attr("dy", null)
    .attr("dominant-baseline", "central").style("font-size", FS + "px")
    .style("font-family", '"Liberation Sans",Arial,sans-serif');

  // y axis
  const ya = g.append("g")
    .call(d3.axisLeft(y).tickValues(yTickValues).tickSize(13)
      .tickFormat(v => yTickLabelled.includes(v) ? fmt(v) : ""));
  ya.select(".domain").remove();
  ya.selectAll(".tick line").attr("stroke-width", 1.4);
  ya.selectAll(".tick text").attr("x", 0).attr("y", -38).attr("dy", null)
    .attr("transform", "rotate(-90)").attr("text-anchor", "middle")
    .attr("dominant-baseline", "central").style("font-size", FS + "px")
    .style("font-family", '"Liberation Sans",Arial,sans-serif');

  // box
  g.append("rect").attr("x", 0).attr("y", 0).attr("width", plotW).attr("height", plotH)
    .attr("fill", "none").attr("stroke", "#000").attr("stroke-width", 1.4);

  // axis title
  g.append("text").attr("x", plotW / 2).attr("y", plotH + 85)
    .attr("text-anchor", "middle").style("font-size", FS + "px").text(xLabels[i]);
});
</script></body></html>
